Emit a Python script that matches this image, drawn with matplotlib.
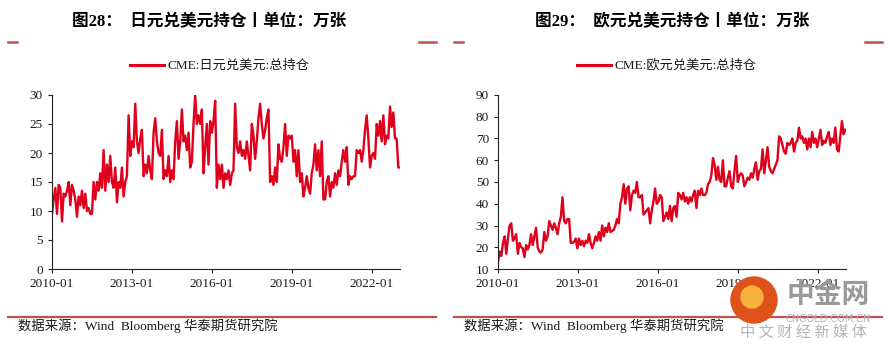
import numpy as np
import pandas as pd
import matplotlib.pyplot as plt
import matplotlib.dates as mdates
from matplotlib.lines import Line2D
from matplotlib.patches import Ellipse

## DATA ##
# CME total open interest, 10k contracts (roughly every 3 weeks, 2010-01 .. 2023-01)
jpy_oi = [
    9.5, 12, 14, 9.5, 14.5, 14, 8.2, 13, 12.5, 13.5, 15, 11, 14.5, 13.5, 12, 9,
    12.5, 11, 13.5, 10.5, 13, 10, 10.5, 9.5, 9.5, 15, 12, 15, 13.5, 16.5, 14, 20.5,
    13.5, 18, 15, 19.5, 15, 14, 17.5, 11.5, 15, 14, 17.5, 12.5, 15, 16, 26.5, 19.5,
    22, 21, 28.5, 22, 20, 22.5, 24, 16, 18, 16.5, 19.5, 17, 15.5, 23.5, 26, 22,
    20, 19.5, 24, 15.5, 17, 16, 19.5, 15, 17, 15.5, 22, 25.5, 19, 22, 27.5, 22,
    23, 20.5, 23.5, 17.5, 18.5, 25, 30, 25, 26.5, 25, 27.5, 16.5, 21, 25, 18, 25.5,
    23.5, 25.5, 29, 14, 18, 15.5, 18, 14, 16.5, 15.5, 17, 14.5, 16.5, 17, 28.5, 21,
    20, 22, 19.5, 20.5, 19, 22, 19.5, 17, 25, 23, 19, 22, 26, 28.5, 25, 22.5,
    24, 26, 27.5, 15, 16, 14.5, 17.5, 15, 21.5, 19, 18.5, 21, 25, 19.5, 23, 22.5,
    23, 18.5, 20.5, 16, 20.5, 15, 16.5, 12.5, 14, 16, 14, 13, 16.5, 18, 21.5, 17,
    20.5, 16, 22, 12, 12, 15, 16, 12.5, 15, 14, 16.5, 14.5, 17, 16, 18.5, 20.5,
    18.5, 21, 14.5, 16, 15.5, 16, 16, 20.5, 20, 20.5, 18.5, 20.5, 24, 26.5, 22.5, 17.5,
    19.5, 20, 19, 25, 23, 25.5, 22, 26.5, 21.5, 23, 22.5, 28, 24.5, 27, 22.5, 22.5,
    17.5, 17.5,
]

eur_oi = [
    13, 18, 16, 22, 25, 17, 24, 30, 31, 23, 24, 26, 17, 22, 20, 19.5,
    15.5, 21, 19, 21, 26, 21, 25, 29, 20, 18, 17.5, 19, 27, 23, 25, 32,
    30, 28, 31, 29, 26, 31, 34, 43, 32, 31, 33, 33, 22, 22, 22.5, 24,
    19.5, 24, 21, 23, 20.5, 23, 22, 26, 22, 19.5, 22, 25, 23, 27, 23, 30,
    25, 29, 27, 31, 27, 27.5, 28, 30, 33, 31, 40, 43, 49, 40, 47, 48,
    37, 44, 46, 45, 50, 43, 43, 44, 35, 36, 37, 38, 31, 37, 41, 47,
    40, 41, 44, 43, 32, 34, 36, 33, 39, 32, 38, 39, 34, 45, 44, 42,
    45, 41, 43, 40, 43, 41, 44, 46, 38, 46, 44, 47, 44, 44, 45, 49,
    50, 53, 61, 58, 51, 57, 51, 50, 60, 48, 48, 52, 55, 48, 47, 55,
    62, 50, 53, 54, 53, 48, 50, 52, 51, 54, 52, 56, 59, 51, 55, 56,
    65, 54, 60, 66, 57, 55, 54, 56, 58, 60, 71, 70, 67, 64, 63, 68,
    67, 68, 70, 64, 68, 69, 75, 70, 71, 68, 70, 65, 70, 66, 73, 68,
    70, 66, 70, 74, 67, 69, 68, 71, 73, 67, 70, 68, 75, 65, 64, 71,
    78, 72, 74,
]

jpy_dates = pd.date_range("2010-01-01", "2023-01-20", periods=len(jpy_oi))
eur_dates = pd.date_range("2010-01-01", "2023-01-10", periods=len(eur_oi))
tick_dates = pd.to_datetime(["2010-01-01", "2013-01-01", "2016-01-01", "2019-01-01", "2022-01-01"])

panels = [
    ("图28：  日元兑美元持仓丨单位：万张", "CME:日元兑美元:总持仓", jpy_dates, jpy_oi, (0, 30), 5),
    ("图29：  欧元兑美元持仓丨单位：万张", "CME:欧元兑美元:总持仓", eur_dates, eur_oi, (10, 90), 10),
]

LINE_RED = "#E0001B"
RULE_RED = "#C0504D"
MIX = ["Liberation Serif", "Noto Sans CJK SC"]

fig = plt.figure(figsize=(8.88, 3.5), dpi=100)
W, H = 888, 350


def fx(px):
    return px / W


def fy(py):
    return 1 - py / H


def hline(x0, x1, y, color, lw):
    fig.add_artist(Line2D([fx(x0), fx(x1)], [fy(y), fy(y)], color=color, lw=lw))


for k, (title, label, dates, vals, ylim, ystep) in enumerate(panels):
    off = 0 if k == 0 else 446
    ax_left = 52 if k == 0 else 498
    ax = fig.add_axes([fx(ax_left), fy(269), fx(348), 174 / H])
    ax.plot(dates, vals, color=LINE_RED, lw=1.7)
    ax.set_ylim(*ylim)
    ax.set_yticks(np.arange(ylim[0], ylim[1] + 1, ystep))
    ax.set_xlim(pd.Timestamp("2010-01-01"), pd.Timestamp("2023-01-20"))
    ax.set_xticks(tick_dates)
    ax.xaxis.set_major_formatter(mdates.DateFormatter("%Y-%m"))
    for s in ["top", "right"]:
        ax.spines[s].set_visible(False)
    for s in ["left", "bottom"]:
        ax.spines[s].set_linewidth(0.8)
        ax.spines[s].set_color("#222222")
    ax.tick_params(axis="both", direction="out", length=3, width=0.8, color="#222222",
                   labelsize=9.5, labelcolor="#1a1a1a")
    for t in ax.get_xticklabels() + ax.get_yticklabels():
        t.set_fontfamily("Liberation Serif")

    # title and red corner marks
    cx = 209 if k == 0 else 672
    fig.text(fx(cx), fy(22), title, ha="center", va="center", fontsize=12,
             fontweight="bold", family=MIX)
    hline(8 + off, 17 + off, 42, RULE_RED, 1.8)
    hline(419 + off, 436 + off, 42, RULE_RED, 1.8)

    # legend
    lx = 130 if k == 0 else 577
    hline(lx, lx + 34, 65, LINE_RED, 2.2)
    fig.text(fx(lx + 37), fy(65), label, ha="left", va="center", fontsize=9.5,
             family=MIX, color="#1a1a1a")

    # bottom rule and source note
    hline(8 + off, 436 + off, 317, RULE_RED, 1.6)
    fig.text(fx(18 + off), fy(326), "数据来源：Wind  Bloomberg 华泰期货研究院",
             ha="left", va="center", fontsize=9.6, family=MIX, color="#1a1a1a")

# site mark in the lower right corner
fig.add_artist(Ellipse((fx(754), fy(300)), 46 / W, 46 / H, transform=fig.transFigure,
                       color="#E0521B", zorder=5))
fig.add_artist(Ellipse((fx(752), fy(297)), 22 / W, 22 / H, transform=fig.transFigure,
                       color="#F6B13A", zorder=6))
fig.text(fx(828), fy(295), "中金网", ha="center", va="center", fontsize=20,
         color="#9a9a9a", family="Noto Sans CJK SC", fontweight="bold", zorder=6)
fig.text(fx(828), fy(319), "CNGOLD.COM.CN", ha="center", va="center", fontsize=7,
         color="#b4b4b4", zorder=6)
fig.text(fx(803), fy(332), "中 文 财 经 新 媒 体", ha="center", va="center", fontsize=11,
         color="#b4b4b4", family="Noto Sans CJK SC", zorder=6)

fig.savefig("out.png", dpi=100, facecolor="white")
